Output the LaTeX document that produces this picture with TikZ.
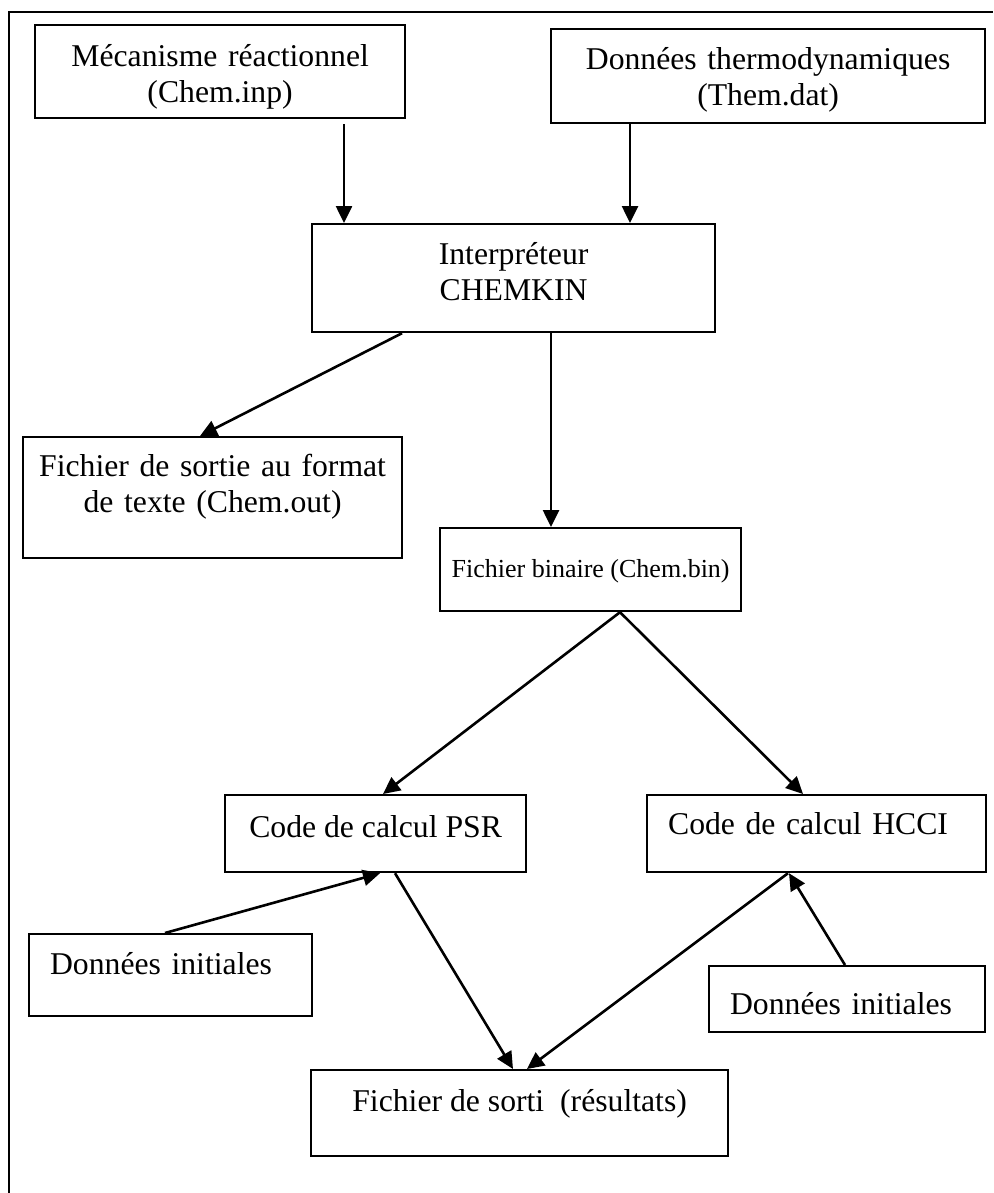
\documentclass[tikz,border=0pt]{standalone}
\usepackage{fontspec}
\setmainfont{Liberation Serif}
\usetikzlibrary{arrows.meta}

\newcommand{\boxfont}{\fontsize{31.7}{36}\selectfont}
\newcommand{\smallboxfont}{\fontsize{26}{30}\selectfont}

\begin{document}
\begin{tikzpicture}[x=1pt, y=-1pt,
  box/.style={draw, line width=2.2pt, anchor=north west, inner ysep=0pt,
              inner xsep=0pt, align=center, font=\boxfont},
  lbox/.style={box, inner xsep=21pt, align=left},
  arr/.style={line width=2.6pt, -{Triangle[length=17pt,width=16pt]}},
  frame/.style={line width=1.6pt}]

\useasboundingbox (0,0) rectangle (993,1193);

% cell border (top and left rules)
\draw[frame] (9,1193) -- (9,12) -- (993,12);

% input files
\node[box, text width=370pt, minimum height=93pt, text height=22pt, text depth=33pt]
  (mec) at (34,24) {Mécanisme réactionnel\\(Chem.inp)};
\node[box, text width=434pt, minimum height=94pt, text height=22pt, text depth=36pt]
  (thermo) at (550,28) {Données thermodynamiques\\(Them.dat)};

% interpreter
\node[box, text width=403pt, minimum height=108pt, text height=22pt, text depth=50pt]
  (chem) at (311,223) {Interpréteur\\CHEMKIN};

% interpreter outputs
\node[box, text width=379pt, minimum height=121pt, text height=22pt, text depth=65pt]
  (out) at (22,436) {Fichier de sortie au format\\de texte (Chem.out)};
\node[box, font=\smallboxfont, minimum width=301pt, minimum height=83pt,
      text height=18pt, text depth=3pt]
  (bin) at (439,527) {Fichier binaire (Chem.bin)};

% computation codes
\node[box, minimum width=301pt, minimum height=77pt, text height=22pt, text depth=15pt]
  (psr) at (224,794) {Code de calcul PSR};
\node[lbox, text width=297pt, minimum height=77pt, text height=22pt, text depth=20pt]
  (hcci) at (646,794) {Code de calcul HCCI};

% initial data
\node[lbox, text width=241pt, minimum height=82pt, text height=22pt, text depth=24pt]
  (dil) at (28,933) {Données initiales};
\node[lbox, text width=234pt, minimum height=66pt, text height=30pt, text depth=0pt]
  (dir) at (708,965) {Données initiales};

% results
\node[box, minimum width=417pt, minimum height=86pt, text height=22pt, text depth=26pt]
  (res) at (310,1069) {Fichier de sorti\ \ (résultats)};

% connectors
\draw[arr, shorten <=5pt] ([xshift=310pt]mec.south west) -- ([xshift=33pt]chem.north west);
\draw[arr] ([xshift=80pt]thermo.south west) -- ([xshift=319pt]chem.north west);
\draw[arr] ([xshift=91pt]chem.south west) -- ([xshift=178pt]out.north west);
\draw[arr] ([xshift=240pt]chem.south west) -- ([xshift=112pt]bin.north west);
\draw[arr] ([xshift=181pt]bin.south west) -- ([xshift=159pt]psr.north west);
\draw[arr] ([xshift=181pt]bin.south west) -- ([xshift=157pt]hcci.north west);
\draw[arr] ([xshift=137pt]dil.north west) -- ([xshift=156pt]psr.south west);
\draw[arr] ([xshift=137pt]dir.north west) -- ([xshift=143pt]hcci.south west);
\draw[arr] ([xshift=171pt]psr.south west) -- ([xshift=203pt]res.north west);
\draw[arr] ([xshift=142pt]hcci.south west) -- ([xshift=217pt]res.north west);

\end{tikzpicture}
\end{document}
